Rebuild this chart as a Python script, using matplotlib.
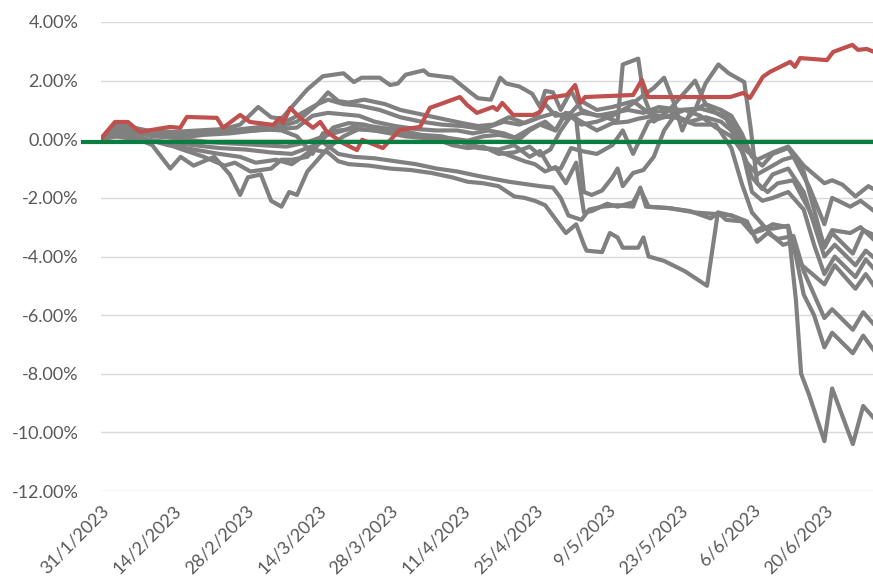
import numpy as np
import pandas as pd
import matplotlib
matplotlib.use('Agg')
import matplotlib.pyplot as plt

# day offsets from 31/1/2023, values in %
start_date = pd.Timestamp('2023-01-31')
tick_days = list(range(0, 150, 14))

red_line = [[0, 0.0], [2.8, 0.59], [5.3, 0.59], [7.6, 0.25], [13.4, 0.42], [15.4, 0.39], [16.7, 0.76],
            [22.5, 0.73], [23.7, 0.39], [27, 0.83], [28.9, 0.59], [33.4, 0.49], [34.7, 0.73], [35.3, 0.56],
            [36.7, 1.07], [38.6, 0.73], [41.1, 0.39], [42.5, 0.59], [43.8, 0.25], [46.9, -0.13], [49.6, -0.37],
            [50.6, -0.02], [54.6, -0.30], [57.9, 0.32], [61.8, 0.42], [63.7, 1.07], [69.5, 1.44], [70.9, 1.17],
            [72.8, 0.90], [75.9, 1.10], [76.7, 1.0], [77.7, 1.24], [79.8, 0.83], [83.7, 0.83], [85, 0.93],
            [86.4, 1.41], [90.2, 1.51], [91.8, 1.85], [92.8, 1.24], [93.7, 1.44], [103, 1.51], [104.7, 2.02],
            [105.9, 1.44], [116.5, 1.44], [121.8, 1.44], [124.3, 1.58], [125.6, 1.41], [128.1, 2.13],
            [129.5, 2.30], [133.4, 2.64], [134.3, 2.47], [135.3, 2.77], [140.5, 2.70], [141.7, 2.98],
            [145.4, 3.22], [146.5, 3.05], [148.2, 3.08], [149.6, 2.98]]

gray_1 = [[0, 0], [2.5, 0.5], [5, 0.45], [9, 0.3], [14, 0.25], [19, 0.3], [24, 0.35], [27, 0.5], [30.5, 1.1],
          [33, 0.75], [35, 0.7], [37, 1.1], [40, 1.7], [43, 2.15], [47, 2.25], [49, 1.95], [50.5, 2.1], [54, 2.1],
          [56, 1.85], [57.5, 1.9], [59, 2.2], [62.5, 2.35], [63.5, 2.2], [68, 2.1], [71.5, 1.6], [73, 1.4],
          [75.5, 1.35], [77.3, 2.1], [78.5, 1.9], [81, 1.8], [83.5, 1.55], [85, 1.1], [86, 1.65], [87.5, 1.6],
          [89, 1.0], [91, 1.65], [93, 1.0], [96, 0.8], [99, 0.9], [102, 1.0], [105, 0.9], [108, 1.1], [112, 1.0],
          [116, 1.05], [119, 0.9], [121, 0.8], [123, 0.3], [125, -0.4], [127, -0.7], [130, -0.45], [133, -0.25],
          [136, -0.9], [140, -1.5], [141.5, -1.4], [143.5, -1.55], [146, -1.95], [148.5, -1.6], [150, -1.75]]

gray_2 = [[0, 0], [2.5, 0.4], [6, 0.3], [10, 0.2], [15, 0.15], [20, 0.2], [25, 0.3], [30, 0.4], [34, 0.5],
          [37, 0.7], [40, 1.0], [42, 1.2], [44, 1.6], [46, 1.3], [48, 1.25], [51, 1.35], [55, 1.2], [58, 1.0],
          [62, 0.85], [66, 0.7], [70, 0.55], [73, 0.45], [76, 0.5], [79, 0.75], [82, 0.55], [85, 0.75], [88, 0.9],
          [90, 0.7], [93, 0.9], [97, 0.8], [100, 0.6], [101, 2.55], [104, 2.75], [105, 1.5], [107, 0.6],
          [110, 1.0], [113, 1.6], [115, 2.0], [117, 1.2], [119, 0.9], [121, 0.7], [123, 0.1], [125, -0.8],
          [127, -1.2], [129, -1.0], [132, -0.7], [134, -0.6], [137, -1.6], [140, -2.9], [141.5, -2.0],
          [145, -2.3], [147, -2.1], [150, -2.5]]

gray_3 = [[0, 0], [2, 0.3], [5, 0.25], [10, 0.15], [15, 0.1], [20, 0.2], [25, 0.25], [30, 0.3], [34, 0.4],
          [38, 0.6], [42, 1.2], [44, 1.35], [47, 1.2], [50, 1.15], [54, 1.0], [58, 0.75], [62, 0.6], [66, 0.5],
          [70, 0.45], [74, 0.35], [78, 0.6], [81, 0.5], [84, 0.7], [86, 1.2], [88, 0.8], [91, 0.9], [93, 1.3],
          [96, 1.0], [99, 1.1], [103, 1.3], [106, 0.9], [110, 1.0], [113, 0.6], [115, 1.0], [117, 1.9],
          [119.5, 2.55], [121.5, 2.25], [124.5, 1.95], [125.8, 0.3], [127, -1.5], [129, -1.8], [131, -1.5],
          [134, -1.4], [137, -2.4], [140, -3.6], [141.5, -3.1], [145, -3.2], [147, -3.0], [150, -3.5]]

gray_4 = [[0, 0], [2.5, 0.45], [6, 0.3], [10, 0.1], [15, 0.05], [20, 0.15], [25, 0.2], [30, 0.3], [35, 0.35],
          [38, 0.4], [41, 0.8], [44, 0.9], [47, 0.85], [50, 0.8], [53, 0.6], [57, 0.45], [61, 0.35], [65, 0.3],
          [69, 0.3], [72, 0.2], [75, 0.3], [78, 0.2], [81, 0.0], [83, 0.3], [85, 0.5], [88, 0.3], [90, 0.9],
          [93, 0.5], [96, 0.6], [99, 0.8], [102, 1.1], [105, 1.5], [107, 1.75], [109, 2.1], [111, 1.2],
          [112.5, 0.3], [114, 0.9], [117, 1.2], [120, 1.0], [122, 0.8], [124, 0.2], [126, -0.6], [128, -0.9],
          [130, -0.5], [133, -0.3], [136, -1.1], [140, -3.7], [141.5, -3.2], [145.5, -3.9], [147.5, -3.1],
          [150, -3.3]]

gray_5 = [[0, 0], [2.5, 0.2], [6, 0.1], [10, -0.2], [13.5, -1.0], [15.5, -0.6], [18, -0.9], [22, -0.6],
          [25, -1.2], [27, -1.9], [28.5, -1.3], [31, -1.2], [33, -2.1], [35, -2.3], [36.5, -1.8], [38, -1.9],
          [40, -1.1], [42, -0.7], [44, -0.3], [47, 0.1], [50, 0.35], [53, 0.3], [56, 0.2], [59, 0.1], [62, 0.05],
          [66, 0.0], [70, -0.1], [74, -0.3], [77, -0.35], [80, -0.2], [83, -0.6], [85, -0.4], [87, -1.0],
          [89, -1.0], [91, -0.3], [93, -0.4], [96, -0.5], [99, -0.2], [101, 0.3], [103, -0.5], [106, 0.6],
          [110, 0.8], [113, 1.0], [116, 0.8], [119, 0.4], [122, 0.1], [124, -0.4], [126, -1.3], [128, -1.7],
          [130, -1.2], [133, -1.0], [136, -1.8], [140, -4.0], [142, -3.6], [146, -4.3], [148, -3.8], [150, -4.1]]

gray_6 = [[0, 0], [3, 0.1], [7, 0.0], [12, -0.1], [15, -0.3], [20, -0.6], [24, -0.9], [26, -0.8], [29, -1.1],
          [33, -1.0], [35, -0.7], [37, -0.7], [40, -0.6], [42, -0.2], [45, 0.4], [48, 0.55], [51, 0.5],
          [55, 0.3], [59, 0.2], [63, 0.1], [67, 0.05], [71, -0.05], [74, 0.1], [77, 0.15], [80, 0.05], [83, 0.35],
          [86, 0.6], [88, 0.3], [90, 0.9], [92, 0.7], [93.5, -1.8], [95, -1.9], [97, -1.75], [99, -1.3],
          [100, -1.0], [101, -1.6], [103, -1.15], [105, -1.05], [107, -0.6], [109, 0.3], [111, 0.8], [114, 0.6],
          [117, 0.75], [120, 0.6], [122, 0.3], [124, -0.3], [126, -1.8], [128, -2.1], [130, -2.0], [133, -1.8],
          [136, -2.4], [138, -3.6], [140, -4.6], [142, -4.0], [146, -4.7], [148, -4.1], [150, -4.5]]

gray_7 = [[0, 0], [3, 0.15], [8, 0.05], [13, -0.2], [18, -0.35], [23, -0.5], [27, -0.6], [30, -0.8],
          [34, -0.7], [37, -0.85], [39, -0.6], [41, -0.35], [44, -0.45], [46, -0.75], [48, -0.85], [52, -0.9],
          [56, -1.0], [60, -1.05], [64, -1.15], [68, -1.3], [71, -1.45], [74, -1.5], [77, -1.6], [80, -1.95],
          [82, -2.0], [84, -2.1], [86, -2.25], [90, -3.2], [92, -2.9], [93.5, -3.6], [94, -3.8], [97, -3.85],
          [98.5, -3.2], [100, -3.35], [101, -3.7], [104, -3.7], [105, -3.35], [106, -4.0], [109, -4.15],
          [113, -4.5], [117.3, -5.0], [119.4, -2.5], [121, -2.75], [124, -2.8], [126, -3.2], [128, -3.1],
          [130, -2.9], [133, -3.0], [134.5, -5.5], [135.5, -8.0], [137, -8.7], [140, -10.3], [141.5, -8.5],
          [145.5, -10.4], [147.5, -9.1], [150, -9.6]]

gray_8 = [[0, 0], [3, 0.1], [8, 0.0], [13, -0.1], [18, -0.2], [23, -0.3], [28, -0.35], [33, -0.45], [37, -0.5],
          [40, -0.3], [43, -0.1], [46, -0.5], [49, -0.6], [53, -0.65], [57, -0.75], [61, -0.85], [65, -1.0],
          [69, -1.1], [73, -1.25], [76, -1.35], [79, -1.45], [81, -1.5], [85, -1.6], [87.5, -1.65], [89, -2.0],
          [90.5, -2.6], [93, -2.75], [94.5, -2.4], [97, -2.3], [100, -2.25], [103, -2.3], [104.4, -1.65],
          [105.5, -2.3], [110, -2.35], [114, -2.45], [118, -2.7], [119.5, -2.5], [122, -2.6], [124, -2.75],
          [126, -3.2], [128, -3.0], [130, -3.05], [133, -2.95], [134.5, -4.0], [136, -5.3], [138, -6.0],
          [140, -7.1], [141.5, -6.6], [145.5, -7.3], [147.5, -6.7], [150, -7.3]]

gray_9 = [[0, 0], [3, 0.3], [7, 0.2], [12, 0.1], [16, 0.0], [21, -0.1], [26, -0.15], [31, -0.2], [36, -0.25],
          [40, -0.1], [44, 0.15], [47, 0.3], [50, 0.5], [54, 0.4], [58, 0.3], [62, 0.15], [66, 0.1], [70, -0.1],
          [73, -0.3], [76, -0.35], [79, -0.55], [82, -0.75], [84, -0.85], [86, -1.1], [88, -0.95], [90, -1.5],
          [92, -0.8], [93.5, -2.5], [95, -2.45], [98, -2.2], [100, -2.3], [103, -2.15], [104.4, -1.7],
          [106, -2.3], [110, -2.35], [115, -2.5], [119, -2.55], [122, -2.6], [125, -2.8], [127, -3.5],
          [129, -3.2], [131, -3.4], [134, -3.3], [136, -4.5], [140, -6.1], [141.5, -5.8], [145.5, -6.5],
          [147.5, -5.9], [150, -6.4]]

gray_10 = [[0, 0], [2.5, 0.35], [6, 0.25], [11, 0.2], [16, 0.2], [21, 0.25], [26, 0.3], [31, 0.35], [35, 0.3],
           [38, 0.1], [41, -0.5], [43, 0.2], [46, 0.3], [49, 0.35], [53, 0.3], [57, 0.2], [61, 0.1], [65, 0.0],
           [68, -0.2], [71, -0.3], [74, -0.25], [77, -0.5], [80, -0.45], [83, -0.25], [85, -0.55], [87, -0.35],
           [89, 0.3], [91, 0.8], [93, 0.6], [96, 0.3], [99, 0.55], [102, 0.6], [104, 0.7], [107, 0.8], [111, 0.75],
           [115, 0.5], [119, 0.5], [122, -0.3], [124, -1.5], [126, -2.5], [128, -2.9], [130, -3.3], [132, -3.6],
           [134, -3.5], [135, -4.2], [140, -4.95], [142, -4.3], [146, -5.1], [148, -4.6], [150, -5.1]]

gray_lines = [gray_1, gray_2, gray_3, gray_4, gray_5, gray_6, gray_7, gray_8, gray_9, gray_10]

green_level = -0.08

y_ticks = [4, 2, 0, -2, -4, -6, -8, -10, -12]

plt.rcParams['font.family'] = ['Lato', 'DejaVu Sans']

fig = plt.figure(figsize=(8.73, 5.86), dpi=100)
ax = fig.add_axes([100.5 / 873, 1 - 491 / 586, 1 - 100.5 / 873, (491 - 22) / 586])

for g in gray_lines:
	g = np.array(g)
	ax.plot(g[:, 0], g[:, 1], color='#808080', lw=3.0, zorder=3)

r = np.array(red_line)
ax.plot(r[:, 0], r[:, 1], color='#C0504D', lw=3.0, zorder=4)

ax.axhline(green_level, xmin=-0.0227, xmax=1, color='#0B7D40', lw=3.0, clip_on=False, zorder=5)

ax.set_xlim(0, 149.4)
ax.set_ylim(-12, 4)
ax.set_yticks(y_ticks)
ax.set_yticklabels(['%.2f%%' % v for v in y_ticks], fontsize=13, color='#595959')
ax.set_xticks(tick_days)
tick_labels = [(start_date + pd.Timedelta(days=d)) for d in tick_days]
ax.set_xticklabels(['%d/%d/%d' % (t.day, t.month, t.year) for t in tick_labels],
                   rotation=45, ha='right', va='top', rotation_mode='anchor',
                   fontsize=13, color='#595959')
ax.tick_params(axis='both', length=0)
ax.tick_params(axis='y', pad=16)
ax.tick_params(axis='x', pad=8)
ax.grid(axis='y', color='#D9D9D9', lw=1)
ax.set_axisbelow(True)
for s in ax.spines.values():
	s.set_visible(False)

plt.savefig('out.png', dpi=100)
